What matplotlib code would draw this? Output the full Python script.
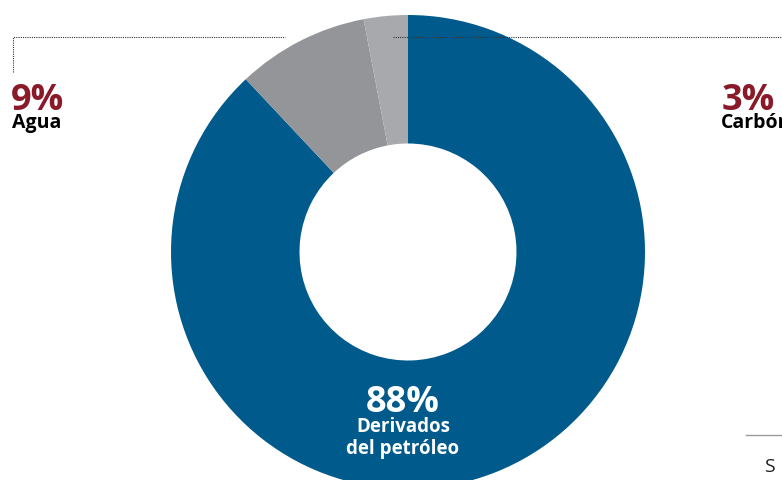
import matplotlib.pyplot as plt

# shares of the energy mix
labels = ["Derivados\ndel petróleo", "Agua", "Carbón"]
shares = [88, 9, 3]
colors = ["#005A8C", "#939598", "#A7A9AC"]

W, H = 782, 480
fig = plt.figure(figsize=(W / 100, H / 100), dpi=100)
ax = fig.add_axes([0, 0, 1, 1])
ax.set_xlim(0, W)
ax.set_ylim(0, H)
ax.set_aspect("equal")
ax.axis("off")

# donut, clockwise from 12 o'clock
cx, cy, r = 408, H - 252, 237
ax.pie(shares, colors=colors, startangle=90, counterclock=False,
       center=(cx, cy), radius=r, frame=True,
       wedgeprops=dict(width=r - 108.5, linewidth=0))
ax.set_xlim(0, W)
ax.set_ylim(0, H)
ax.axis("off")

font = ["Open Sans", "DejaVu Sans"]
red = "#8A1A2A"

# center label for the big slice
ax.text(403, H - 412, f"{shares[0]}%", color="white", fontsize=26, fontweight="bold",
        ha="center", va="baseline", family=font)
ax.text(403, H - 438, labels[0], color="white", fontsize=13.5, fontweight="bold",
        ha="center", va="center", linespacing=1.08, family=font)

# left label (Agua)
ax.plot([13, 13, 285], [H - 72, H - 37, H - 37], color="#333333", lw=0.8, ls=(0, (1, 1)))
ax.text(11, H - 110, f"{shares[1]}%", color=red, fontsize=26, fontweight="bold",
        ha="left", va="baseline", family=font)
ax.text(12, H - 128, labels[1], color="black", fontsize=14, fontweight="bold",
        ha="left", va="baseline", family=font)

# right label (Carbón), clipped by the figure edge
ax.plot([393, W + 5], [H - 37, H - 37], color="#333333", lw=0.8, ls=(0, (1, 1)))
ax.text(722, H - 110, f"{shares[2]}%", color=red, fontsize=26, fontweight="bold",
        ha="left", va="baseline", family=font)
ax.text(721, H - 128, labels[2], color="black", fontsize=14, fontweight="bold",
        ha="left", va="baseline", family=font)

# source note at bottom right
ax.plot([746, W + 5], [H - 435, H - 435], color="#999999", lw=1)
ax.text(764, H - 472, "S", color="#222222", fontsize=14, ha="left", va="baseline",
        family=font)

fig.savefig("out.png", dpi=100)
